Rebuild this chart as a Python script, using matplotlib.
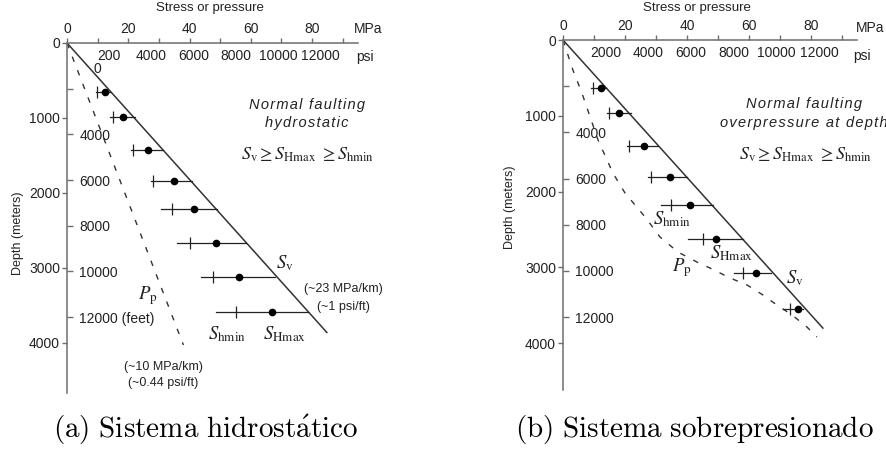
"""
Stress vs depth profiles, normal faulting regime:
(a) hydrostatic pore pressure, (b) overpressure at depth.
"""

import matplotlib
matplotlib.use("Agg")
import matplotlib.pyplot as plt

W, H = 887, 450
SANS = ["Liberation Sans", "DejaVu Sans"]
AXIS_GREY = "#6e6e6e"
INK = "#222222"

M_TO_FT = 3.28084
MPA_TO_PSI = 145.038

# ---- panel (a): hydrostatic ----
depth_a = [650, 990, 1430, 1840, 2210, 2670, 3120, 3590]      # m
bar_lo_a = [9.5, 14.1, 20.9, 27.5, 30.7, 35.9, 43.8, 48.7]    # MPa
shmin_a = [9.8, 15.0, 21.6, 28.1, 34.3, 40.2, 47.7, 55.2]
shmax_a = [12.4, 18.3, 26.5, 35.0, 41.5, 48.7, 56.2, 67.0]
bar_hi_a = [14.1, 22.2, 31.4, 40.8, 49.0, 58.5, 68.0, 78.8]
sv_depth_a = [0, 3870]
sv_a = [0, 85]
pp_depth_a = [0, 4030]
pp_a = [0, 38]

# ---- panel (b): overpressure at depth ----
depth_b = [630, 960, 1400, 1810, 2180, 2630, 3080, 3550]
bar_lo_b = [9.0, 14.2, 20.6, 27.4, 31.6, 40.3, 55.2, 71.0]
shmin_b = [9.7, 14.8, 21.3, 28.4, 34.8, 45.2, 58.1, 73.2]
shmax_b = [12.3, 18.1, 26.1, 34.5, 41.0, 49.4, 62.3, 75.8]
bar_hi_b = [13.9, 21.9, 30.6, 40.0, 48.4, 58.1, 67.1, 77.4]
sv_depth_b = [0, 3810]
sv_b = [0, 84]
pp_depth_b = [0, 396, 700, 1320, 1756, 2020, 2337, 2601, 2799, 2931,
              3023, 3142, 3234, 3366, 3498, 3630, 3789, 3921]
pp_b = [0, 3.2, 6.1, 11.3, 16.1, 20.0, 26.5, 31.3, 37.1, 43.2,
        48.1, 53.9, 59.4, 64.5, 69.0, 73.9, 78.7, 81.9]

# axis ticks
mpa_ticks = [0, 10, 20, 30, 40, 50, 60, 70, 80, 90]
mpa_labels = ["0", "", "20", "", "40", "", "60", "", "80", ""]
depth_ticks = [0, 1000, 2000, 3000, 4000]
psi_ticks = [2000, 4000, 6000, 8000, 10000, 12000]
feet_ticks = [2000, 4000, 6000, 8000, 10000, 12000]
psi_labels_a = ["200", "4000", "6000", "8000", "10000", "12000"]
psi_labels_b = ["2000", "4000", "6000", "8000", "10000", "12000"]
feet_labels_a = ["", "4000", "6000", "8000", "10000", "12000 (feet)"]
feet_labels_b = ["", "4000", "6000", "8000", "10000", "12000"]

XMAX = 95


def px(x, y):
    return x / W, 1 - y / H


def setup_axes(ax, ymax, psi_labels, feet_labels):
    ax.set_xlim(0, XMAX)
    ax.set_ylim(ymax, 0)
    ax.patch.set_visible(False)

    # feet scale on the right side of the depth axis
    axf = ax.twinx()
    axf.set_ylim(ymax * M_TO_FT, 0)
    for s in axf.spines.values():
        s.set_visible(False)
    axf.spines["right"].set_position(("axes", 0))
    axf.set_yticks(feet_ticks)
    axf.set_yticklabels(feet_labels)
    axf.tick_params(axis="y", direction="out", length=4, width=1.0,
                    color=AXIS_GREY, labelcolor=INK, labelsize=10, pad=5)
    for lab in axf.get_yticklabels():
        lab.set_family(SANS)

    # psi labels just under the top axis
    axp = ax.twiny()
    axp.set_xlim(0, XMAX * MPA_TO_PSI)
    for s in axp.spines.values():
        s.set_visible(False)
    axp.spines["bottom"].set_position(("axes", 1.0))
    axp.xaxis.set_ticks_position("bottom")
    axp.set_xticks(psi_ticks)
    axp.set_xticklabels(psi_labels)
    axp.tick_params(axis="x", length=0, labelcolor=INK, labelsize=10, pad=4)
    for lab in axp.get_xticklabels():
        lab.set_family(SANS)

    # main axes: MPa on top, metres on the left (after the twins, which reset ticks)
    for s in ["bottom", "right"]:
        ax.spines[s].set_visible(False)
    for s in ["top", "left"]:
        ax.spines[s].set_color(AXIS_GREY)
        ax.spines[s].set_linewidth(1.1)
    ax.xaxis.tick_top()
    ax.yaxis.tick_left()
    ax.set_xticks(mpa_ticks)
    ax.set_xticklabels(mpa_labels)
    ax.set_yticks(depth_ticks)
    ax.set_yticklabels([str(d) for d in depth_ticks])
    ax.tick_params(axis="both", direction="out", length=3.5, width=1.0,
                   color=AXIS_GREY, labelcolor=INK, labelsize=10, pad=1.5)
    for lab in ax.get_xticklabels() + ax.get_yticklabels():
        lab.set_family(SANS)


def draw_data(ax, depth, lo, shmin, shmax, hi, sv_d, sv, pp_d, pp):
    ax.plot(sv, sv_d, color="#333333", lw=1.1, solid_capstyle="butt")
    ax.plot(pp, pp_d, color="#333333", lw=1.0, linestyle=(0, (4, 6.5)))
    for d, a, b in zip(depth, lo, hi):
        ax.plot([a, b], [d, d], color=INK, lw=0.9)
    ax.plot(shmin, depth, linestyle="none", marker="|", markersize=9,
            markeredgewidth=0.9, color=INK)
    ax.plot(shmax, depth, linestyle="none", marker="o", markersize=4.5,
            color="black")


fig = plt.figure(figsize=(W / 100, H / 100), dpi=100)
fig.patch.set_facecolor("white")

ax_a = fig.add_axes([67 / W, (H - 393) / H, 291 / W, 350 / H])
setup_axes(ax_a, 4670, psi_labels_a, feet_labels_a)
draw_data(ax_a, depth_a, bar_lo_a, shmin_a, shmax_a, bar_hi_a,
          sv_depth_a, sv_a, pp_depth_a, pp_a)

ax_b = fig.add_axes([563 / W, (H - 390) / H, 294.5 / W, 350 / H])
setup_axes(ax_b, 4620, psi_labels_b, feet_labels_b)
draw_data(ax_b, depth_b, bar_lo_b, shmin_b, shmax_b, bar_hi_b,
          sv_depth_b, sv_b, pp_depth_b, pp_b)


def sans(x, y, s, size=9.5, **kw):
    fig.text(*px(x, y), s, family=SANS, fontsize=size, color=INK,
             ha=kw.pop("ha", "center"), va=kw.pop("va", "center"), **kw)


def serif(x, y, s, size=13, **kw):
    fig.text(*px(x, y), s, fontsize=size, color=INK, math_fontfamily="stix",
             ha=kw.pop("ha", "center"), va="center", **kw)


def spaced(s):
    return "\u200a".join(s)


ineq = r"$S_{\mathrm{v}} \geq S_{\mathrm{Hmax}}\ \geq S_{\mathrm{hmin}}$"

# panel (a) annotations
sans(210, 8, "Stress or pressure", 9.5)
sans(368, 29, "MPa", 10)
sans(365, 57, "psi", 10)
sans(97, 69, "0", 10)
sans(18, 233, "Depth (meters)", 9, rotation=90)
sans(307, 105, spaced("Normal faulting"), 10.5, style="italic")
sans(307, 123, spaced("hydrostatic"), 10.5, style="italic")
serif(307, 155, ineq, 13)
serif(285, 263, r"$S_{\mathrm{v}}$", 13.5)
sans(343, 289, "(~23 MPa/km)", 9)
sans(343, 307, "(~1 psi/ft)", 9)
serif(148, 296, r"$P_{\mathrm{p}}$", 13.5)
serif(227, 334, r"$S_{\mathrm{hmin}}$", 13.5)
serif(285, 334, r"$S_{\mathrm{Hmax}}$", 13.5)
sans(163, 367, "(~10 MPa/km)", 9)
sans(163, 383, "(~0.44 psi/ft)", 9)

# panel (b) annotations
sans(697, 8, "Stress or pressure", 9.5)
sans(870, 28, "MPa", 10)
sans(862, 56, "psi", 10)
sans(510, 207, "Depth (meters)", 9, rotation=90)
sans(804, 104, spaced("Normal faulting"), 10.5, style="italic")
sans(804, 123, spaced("overpressure at depth"), 10.5, style="italic")
serif(805, 155, ineq, 13)
serif(672, 219, r"$S_{\mathrm{hmin}}$", 13.5)
serif(732, 253, r"$S_{\mathrm{Hmax}}$", 13.5)
serif(682, 268, r"$P_{\mathrm{p}}$", 13.5)
serif(795, 278, r"$S_{\mathrm{v}}$", 13.5)

# captions
fig.text(*px(206, 430), r"$\mathrm{(a)\ Sistema\ hidrost\acute{a}tico}$",
         fontsize=21, math_fontfamily="cm", ha="center", va="center")
fig.text(*px(694, 430), r"$\mathrm{(b)\ Sistema\ sobrepresionado}$",
         fontsize=21, math_fontfamily="cm", ha="center", va="center")

fig.savefig("out.png", dpi=100)
